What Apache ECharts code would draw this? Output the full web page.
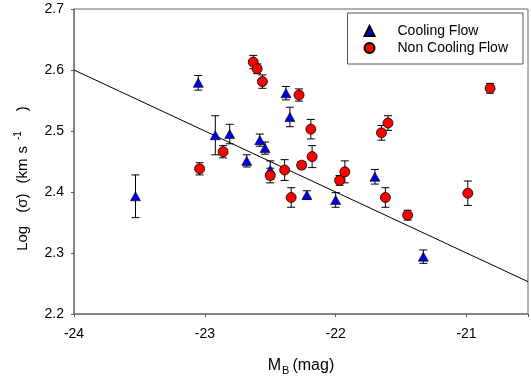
<!DOCTYPE html>
<html>
<head>
<meta charset="utf-8">
<script src="https://cdn.jsdelivr.net/npm/echarts@6/dist/echarts.min.js"></script>
<style>html,body{margin:0;padding:0;background:#fff;}#c{width:531px;height:377px;}</style>
</head>
<body>
<div id="c"></div>
<script>
// Cooling Flow (blue triangles)
var cfX   = [-23.53, -23.05, -22.92, -22.81, -22.68, -22.58, -22.54, -22.50, -22.38, -22.35, -22.22, -22.00, -21.70, -21.33];
var cfY   = [ 2.393,  2.579,  2.493,  2.495,  2.451,  2.485,  2.472,  2.436,  2.562,  2.523,  2.395,  2.387,  2.425,  2.294];
var cfErr = [ 0.035,  0.012,  0.032,  0.016,  0.010,  0.010,  0.010,  0.015,  0.011,  0.016,  0.007,  0.012,  0.012,  0.011];
// Non Cooling Flow (red circles)
var ncfX   = [-23.04, -22.86, -22.63, -22.60, -22.56, -22.50, -22.39, -22.34, -22.28, -22.26, -22.19, -22.18, -21.97, -21.93, -21.65, -21.60, -21.62, -21.45, -20.99, -20.82];
var ncfY   = [ 2.438,  2.466,  2.613,  2.602,  2.581,  2.427,  2.436,  2.391,  2.559,  2.444,  2.503,  2.458,  2.419,  2.433,  2.497,  2.513,  2.391,  2.362,  2.398,  2.570];
var ncfErr = [ 0.010,  0.010,  0.011,  0.008,  0.011,  0.012,  0.017,  0.016,  0.010,  0.006,  0.016,  0.018,  0.008,  0.018,  0.012,  0.012,  0.016,  0.008,  0.020,  0.008];
// Fit line end points
var fitX = [-24, -20.53];
var fitY = [2.600, 2.253];
// Axis ticks
var xTicks = [-24, -23, -22, -21];
var yTicks = [2.2, 2.3, 2.4, 2.5, 2.6, 2.7];

function pts(xs, ys) { return xs.map(function (x, i) { return [x, ys[i]]; }); }
function errPts(xs, ys, es) { return xs.map(function (x, i) { return [x, ys[i], es[i]]; }); }

function errRender(params, api) {
  var x = api.value(0), y = api.value(1), e = api.value(2);
  var top = api.coord([x, y + e]);
  var bot = api.coord([x, y - e]);
  var w = 4;
  var st = { stroke: '#000', lineWidth: 1 };
  return {
    type: 'group',
    children: [
      { type: 'line', shape: { x1: top[0], y1: top[1], x2: bot[0], y2: bot[1] }, style: st },
      { type: 'line', shape: { x1: top[0] - w, y1: top[1], x2: top[0] + w, y2: top[1] }, style: st },
      { type: 'line', shape: { x1: bot[0] - w, y1: bot[1], x2: bot[0] + w, y2: bot[1] }, style: st }
    ]
  };
}

var chart = echarts.init(document.getElementById('c'));
var FONT = '"Liberation Sans", Arial, sans-serif';
function tx(extra) {
  var o = { fontFamily: FONT, fontSize: 15, color: '#000' };
  for (var k in extra) o[k] = extra[k];
  return o;
}
chart.setOption({
  animation: false,
  backgroundColor: '#fff',
  textStyle: { fontFamily: FONT },
  grid: { left: 74, right: 3, top: 9, bottom: 63, show: true, borderColor: '#666', borderWidth: 1,
    containLabel: false, outerBoundsMode: 'none' },
  legend: {
    data: ['Cooling Flow', 'Non Cooling Flow'],
    orient: 'vertical',
    right: 8, top: 13,
    backgroundColor: '#fff',
    borderColor: '#555', borderWidth: 1,
    padding: [11, 15, 9, 16],
    itemWidth: 10, itemHeight: 10, itemGap: 3,
    textStyle: { fontFamily: FONT, fontSize: 14, color: '#000', padding: [0, 0, 0, 18] }
  },
  xAxis: {
    type: 'value', min: -24, max: -20.53, interval: 1,
    name: '{m|M}{sub|B}{m|(mag)}', nameLocation: 'middle', nameGap: 42,
    nameTextStyle: { fontFamily: FONT, fontSize: 16, color: '#000',
      rich: {
        m: { fontFamily: FONT, fontSize: 16, color: '#000' },
        sub: { fontSize: 11, verticalAlign: 'bottom', padding: [9, 3, 0, 1], fontFamily: FONT, color: '#000' }
      } },
    axisLine: { lineStyle: { color: '#777', width: 1.5 } },
    axisTick: { inside: false, length: 3, lineStyle: { color: '#555' } },
    splitLine: { show: false },
    axisLabel: { fontFamily: FONT, fontSize: 14, color: '#000', margin: 13,
      formatter: function (v) { return xTicks.indexOf(Math.round(v * 100) / 100) >= 0 ? String(v) : ''; } }
  },
  yAxis: {
    type: 'value', min: 2.2, max: 2.7, interval: 0.1,
    name: '{a|Log}{b|(σ)}{c|(km}{d|s}{sup|-1}{e|)}', nameLocation: 'middle', nameGap: 42, nameRotate: 90,
    nameTextStyle: { fontFamily: FONT, fontSize: 15, color: '#000',
      rich: {
        a: tx({}),
        b: tx({ padding: [0, 0, 0, 13] }),
        c: tx({ padding: [0, 0, 0, 10] }),
        d: tx({ padding: [0, 0, 0, 5] }),
        sup: tx({ fontSize: 10, verticalAlign: 'top', padding: [0, 0, 9, 6] }),
        e: tx({ padding: [0, 34, 0, 20] })
      } },
    axisLine: { show: true, lineStyle: { color: '#777', width: 1.5 } },
    axisTick: { show: true, inside: false, length: 3, lineStyle: { color: '#555' } },
    splitLine: { show: false },
    axisLabel: { fontFamily: FONT, fontSize: 14, color: '#000', margin: 10,
      formatter: function (v) { return v.toFixed(1); } }
  },
  series: [
    { type: 'line', data: pts(fitX, fitY), symbol: 'none', lineStyle: { color: '#000', width: 1 }, z: 1, silent: true },
    { type: 'custom', data: errPts(cfX, cfY, cfErr), renderItem: errRender, z: 2, silent: true },
    { type: 'custom', data: errPts(ncfX, ncfY, ncfErr), renderItem: errRender, z: 2, silent: true },
    { name: 'Cooling Flow', type: 'scatter', data: pts(cfX, cfY), symbol: 'triangle', symbolSize: [10, 9],
      itemStyle: { color: '#0000e6', borderColor: '#000', borderWidth: 0.6, opacity: 1 }, z: 3 },
    { name: 'Non Cooling Flow', type: 'scatter', data: pts(ncfX, ncfY), symbol: 'circle', symbolSize: 10,
      itemStyle: { color: '#ff0000', borderColor: '#000', borderWidth: 0.8, opacity: 1 }, z: 4 }
  ]
});
</script>
</body>
</html>
